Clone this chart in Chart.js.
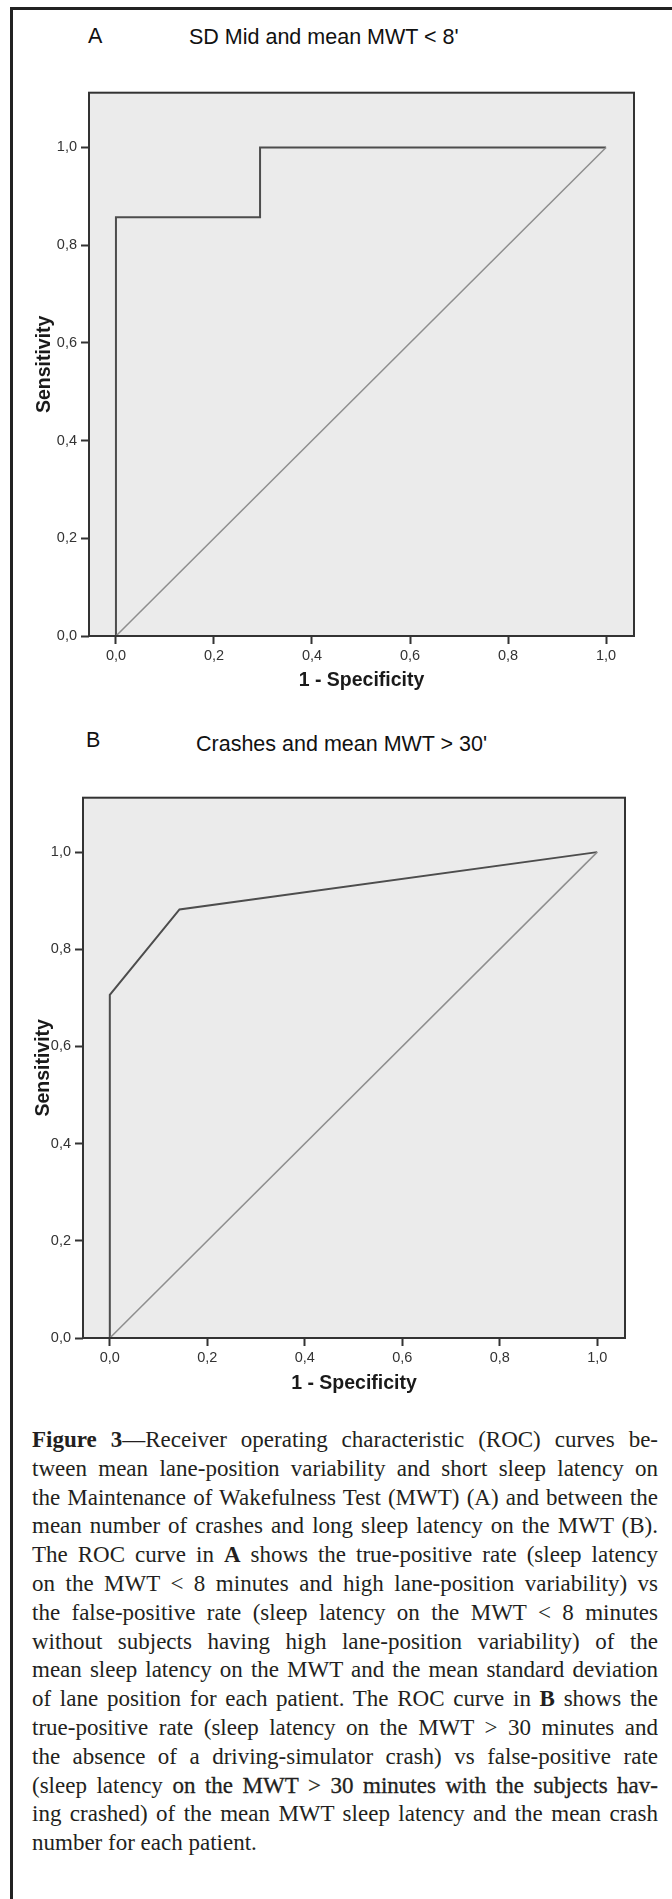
<!DOCTYPE html>
<html>
<head>
<meta charset="utf-8">
<script src="https://cdn.jsdelivr.net/npm/chart.js"></script>
<style>
  body { margin: 0; background: #fff; width: 672px; height: 1899px; position: relative; overflow: hidden; font-family: "Liberation Sans", Arial, sans-serif; }
  .frameTop { position: absolute; left: 10px; top: 7px; width: 662px; height: 3px; background: #222; }
  .frameLeft { position: absolute; left: 10px; top: 7px; width: 3px; height: 1892px; background: #222; }
  .lbl { position: absolute; font-size: 21.5px; line-height: 21px; color: #111; white-space: nowrap; }
  canvas { position: absolute; left: 0; }
  .caption { position: absolute; left: 32px; top: 1426px; width: 626px; font-family: "Liberation Serif", "Times New Roman", serif; font-size: 23px; line-height: 28.8px; color: #231f20; }
  .caption div { text-align: justify; text-align-last: justify; }
  .caption div.last { text-align-last: left; }
  .heavy { -webkit-text-stroke: 0.3px #231f20; }
</style>
</head>
<body>
<div class="frameTop"></div>
<div class="frameLeft"></div>

<div class="lbl" style="left:88px; top:26px;">A</div>
<div class="lbl" style="left:189px; top:27px;">SD Mid and mean MWT &lt; 8'</div>
<canvas id="rocA" width="672" height="620" style="top:80px"></canvas>

<div class="lbl" style="left:86px; top:730px;">B</div>
<div class="lbl" style="left:196px; top:734px;">Crashes and mean MWT &gt; 30'</div>
<canvas id="rocB" width="672" height="620" style="top:785px"></canvas>

<div class="caption">
  <div><b>Figure 3</b>—Receiver operating characteristic (ROC) curves be-</div>
  <div>tween mean lane-position variability and short sleep latency on</div>
  <div>the Maintenance of Wakefulness Test (MWT) (A) and between the</div>
  <div>mean number of crashes and long sleep latency on the MWT (B).</div>
  <div>The ROC curve in <b>A</b> shows the true-positive rate (sleep latency</div>
  <div>on the MWT &lt; 8 minutes and high lane-position variability) vs</div>
  <div>the false-positive rate (sleep latency on the MWT &lt; 8 minutes</div>
  <div>without subjects having high lane-position variability) of the</div>
  <div>mean sleep latency on the MWT and the mean standard deviation</div>
  <div>of lane position for each patient. The ROC curve in <b>B</b> shows the</div>
  <div>true-positive rate (sleep latency on the MWT &gt; 30 minutes and</div>
  <div>the absence of a driving-simulator crash) vs false-positive rate</div>
  <div>(sleep latency <span class="heavy">on the MWT &gt; 30 minutes with the subjects hav-</span></div>
  <div>ing crashed) of the mean MWT sleep latency and the mean crash</div>
  <div class="last">number for each patient.</div>
</div>

<script>
// данные графиков
const axisTicks = [0, 0.2, 0.4, 0.6, 0.8, 1.0];
const refX = [0, 1];
const refY = [0, 1];
// A: SD Mid and mean MWT < 8'
const fprA = [0, 0, 0.294, 0.294, 1];
const tprA = [0, 0.857, 0.857, 1, 1];
// B: Crashes and mean MWT > 30'
const fprB = [0, 0, 0.143, 1];
const tprB = [0, 0.706, 0.882, 1];

Chart.defaults.font.family = '"Liberation Sans", Arial, sans-serif';

function pts(xs, ys) {
  return xs.map(function (x, i) { return { x: x, y: ys[i] }; });
}
function comma(v) {
  return v.toFixed(1).replace(".", ",");
}
function setTicks(scale) {
  scale.ticks = axisTicks.map(function (v) { return { value: v }; });
}

// серый фон и рамка области построения
const plotFrame = {
  id: "plotFrame",
  beforeDraw: function (chart) {
    const a = chart.chartArea, ctx = chart.ctx;
    ctx.save();
    ctx.fillStyle = "#ebebeb";
    ctx.fillRect(a.left, a.top, a.right - a.left, a.bottom - a.top);
    ctx.restore();
  },
  afterDatasetsDraw: function (chart) {
    const a = chart.chartArea, ctx = chart.ctx;
    ctx.save();
    ctx.strokeStyle = "#333";
    ctx.lineWidth = 2;
    ctx.strokeRect(a.left, a.top, a.right - a.left, a.bottom - a.top);
    ctx.restore();
  }
};

function rocChart(id, fpr, tpr, box) {
  return new Chart(document.getElementById(id), {
    type: "line",
    data: {
      datasets: [
        { data: pts(refX, refY), borderColor: "#8e8e8e", borderWidth: 1.5 },
        { data: pts(fpr, tpr), borderColor: "#4d4d4d", borderWidth: 2 }
      ]
    },
    options: {
      responsive: false,
      animation: false,
      devicePixelRatio: 1,
      elements: { point: { radius: 0 }, line: { tension: 0 } },
      layout: { padding: { top: box.top, right: box.right, left: 0, bottom: 0 } },
      plugins: { legend: { display: false }, tooltip: { enabled: false } },
      scales: {
        x: {
          type: "linear",
          min: -0.055,
          max: 1.057,
          afterBuildTicks: setTicks,
          afterFit: function (s) { s.height = box.xh; },
          border: { display: false },
          grid: { drawOnChartArea: false, tickLength: 8, tickWidth: 2, tickColor: "#333" },
          ticks: { callback: comma, padding: 3, color: "#333", font: { size: 14.5 }, autoSkip: false, maxRotation: 0 },
          title: { display: true, text: "1 - Specificity", color: "#1a1a1a", font: { size: 19.5, weight: "bold" }, padding: { top: 0, bottom: box.xtp } }
        },
        y: {
          min: 0,
          max: 1.112,
          afterBuildTicks: setTicks,
          afterFit: function (s) { s.width = box.yw; },
          border: { display: false },
          grid: { drawOnChartArea: false, tickLength: 8, tickWidth: 2, tickColor: "#333" },
          ticks: { callback: comma, padding: 4, color: "#333", font: { size: 14.5 } },
          title: { display: true, text: "Sensitivity", color: "#1a1a1a", font: { size: 19.5, weight: "bold" }, padding: { top: box.ytp, bottom: 0 } }
        }
      }
    },
    plugins: [plotFrame]
  });
}

rocChart("rocA", fprA, tprA, { top: 11, right: 38, xh: 64, yw: 89, xtp: 8, ytp: 33 });
rocChart("rocB", fprB, tprB, { top: 11, right: 47, xh: 67, yw: 83, xtp: 10, ytp: 32 });
</script>
</body>
</html>
